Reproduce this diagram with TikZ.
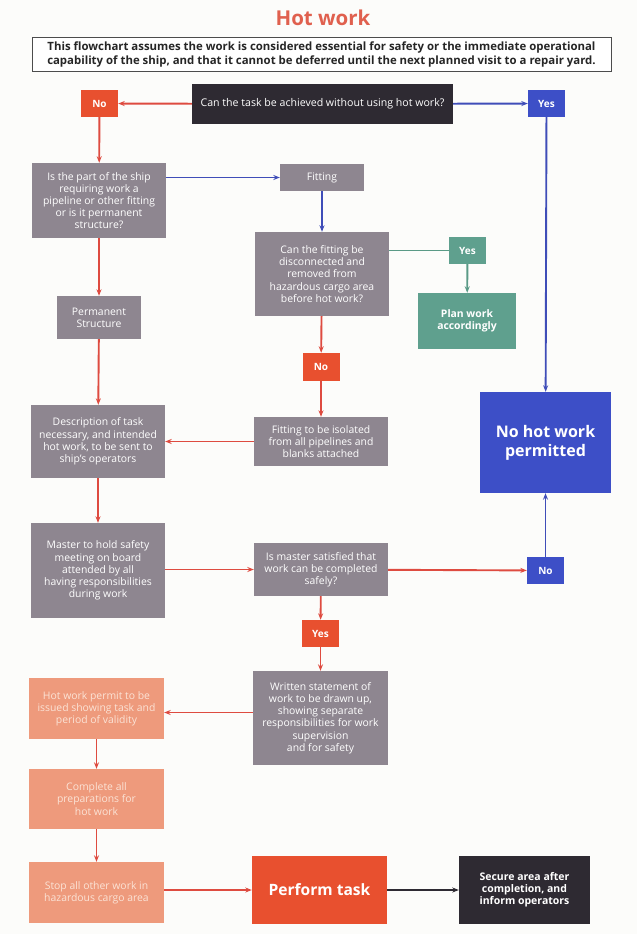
\documentclass[tikz,border=0pt]{standalone}
\usepackage{fontspec}
\setmainfont{Open Sans}
\usetikzlibrary{arrows.meta,calc}
\definecolor{cred}{HTML}{E8502F}
\definecolor{lred}{HTML}{DE4B40}
\definecolor{ctitle}{HTML}{E0604E}
\definecolor{cblue}{HTML}{3D4FC7}
\definecolor{lblue}{HTML}{3F4DB8}
\definecolor{cdark}{HTML}{2E2A32}
\definecolor{cgray}{HTML}{8E8690}
\definecolor{cgreen}{HTML}{5FA08E}
\definecolor{lgreen}{HTML}{5A9A86}
\definecolor{csalmon}{HTML}{EE9A7C}
\definecolor{tsalmon}{HTML}{FBE3D6}
\definecolor{cpaper}{HTML}{FCFCFA}
\tikzset{
  base/.style={rectangle, inner sep=0pt, align=center, text=white,
    font=\fontsize{10.4}{12.2}\selectfont},
  graybox/.style={base, fill=cgray},
  darkbox/.style={base, fill=cdark},
  redbox/.style={base, fill=cred},
  bluebox/.style={base, fill=cblue},
  greenbox/.style={base, fill=cgreen},
  salmonbox/.style={base, fill=csalmon, text=tsalmon},
  tag/.style={base, font=\bfseries\fontsize{10}{12}\selectfont, minimum width=37pt, minimum height=27pt},
  conn/.style={line width=1.9pt, -{Stealth[length=6.5pt,width=5pt]}},
  rarr/.style={conn, draw=lred},
  barr/.style={conn, draw=lblue},
  garr/.style={conn, draw=lgreen},
  karr/.style={conn, draw=cdark},
}
\begin{document}
\begin{tikzpicture}[x=1pt,y=-1pt]
\fill[cpaper] (0,0) rectangle (637,934);
\useasboundingbox (0,0) rectangle (637,934);

\node[text=ctitle, font=\bfseries\fontsize{20.5}{24}\selectfont] (title) at (323,18) {Hot work};
\node[draw=black!70, line width=1pt, fill=white, minimum width=579pt, minimum height=34pt, inner sep=0pt, align=center,
  font=\bfseries\fontsize{11.4}{14}\selectfont, text=black!85] (note) at (321.5,55)
  {This flowchart assumes the work is considered essential for safety or the immediate operational\\
   capability of the ship, and that it cannot be deferred until the next planned visit to a repair yard.};

\node[darkbox, minimum width=261pt, minimum height=40pt, font=\fontsize{10.6}{12}\selectfont] (q1) at (322.5,104) {Can the task be achieved without using hot work?};
\node[tag, fill=cred] (no1) at (99.5,103.5) {No};
\node[tag, fill=cblue] (yes1) at (546.5,103.5) {Yes};

\node[graybox, minimum width=134pt, minimum height=75pt] (ispart) at (99,200.5)
  {Is the part of the ship\\requiring work a\\pipeline or other fitting\\or is it permanent\\structure?};
\node[graybox, minimum width=84pt, minimum height=27pt] (fitting) at (322,177.5) {Fitting};
\node[graybox, minimum width=134pt, minimum height=84pt] (canfit) at (322,274)
  {Can the fitting be\\disconnected and\\removed from\\hazardous cargo area\\before hot work?};
\node[tag, fill=cgreen] (yes2) at (467.5,250.5) {Yes};
\node[greenbox, minimum width=98pt, minimum height=56pt, font=\bfseries\fontsize{10.4}{12.2}\selectfont] (plan) at (467,321) {Plan work\\accordingly};
\node[graybox, minimum width=84pt, minimum height=43pt] (perm) at (99,317.5) {Permanent\\Structure};
\node[tag, fill=cred, minimum height=28pt] (no2) at (321,367) {No};
\node[bluebox, minimum width=131pt, minimum height=101pt, font=\bfseries\fontsize{16}{19}\selectfont] (nohot) at (545.5,442.5) {No hot work\\permitted};

\node[graybox, minimum width=134pt, minimum height=73pt] (desc) at (98,441.5)
  {Description of task\\necessary, and intended\\hot work, to be sent to\\ship's operators};
\node[graybox, minimum width=134pt, minimum height=49pt] (iso) at (321,441.5)
  {Fitting to be isolated\\from all pipelines and\\blanks attached};
\node[graybox, minimum width=134pt, minimum height=95pt] (master) at (98,570.5)
  {Master to hold safety\\meeting on board\\attended by all\\having responsibilities\\during work};
\node[graybox, minimum width=134pt, minimum height=53pt] (sat) at (321,569.5)
  {Is master satisfied that\\work can be completed\\safely?};
\node[tag, fill=cblue] (no3) at (545.5,570.5) {No};
\node[tag, fill=cred] (yes3) at (320.5,633.5) {Yes};
\node[graybox, minimum width=135pt, minimum height=94pt] (written) at (320.5,718)
  {Written statement of\\work to be drawn up,\\showing separate\\responsibilities for work\\supervision\\and for safety};

\node[salmonbox, minimum width=135pt, minimum height=61pt] (permit) at (96.5,708.5)
  {Hot work permit to be\\issued showing task and\\period of validity};
\node[salmonbox, minimum width=135pt, minimum height=60pt] (complete) at (96.5,799)
  {Complete all\\preparations for\\hot work};
\node[salmonbox, minimum width=135pt, minimum height=61pt] (stop) at (96.5,892.5)
  {Stop all other work in\\hazardous cargo area};
\node[redbox, minimum width=135pt, minimum height=68pt, font=\bfseries\fontsize{15.6}{19}\selectfont] (perform) at (319.5,890) {Perform task};
\node[darkbox, minimum width=131pt, minimum height=68pt, font=\bfseries\fontsize{10.5}{12.2}\selectfont] (secure) at (524.5,890)
  {Secure area after\\completion, and\\inform operators};

% connectors
\draw[rarr] (q1) -- (no1);
\draw[barr] (q1) -- (yes1);
\draw[rarr] (no1) -- (ispart);
\draw[barr] (ispart.east |- fitting) -- (fitting);
\draw[barr] (fitting) -- (canfit);
\draw[line width=1.9pt, draw=lgreen] (canfit.east |- yes2) -- (yes2);
\draw[garr] (yes2) -- (plan);
\draw[rarr] (canfit) -- (no2);
\draw[rarr] (no2) -- (iso);
\draw[rarr] (ispart) -- (perm);
\draw[rarr] (perm) -- (desc);
\draw[rarr] (iso) -- (desc);
\draw[rarr] (desc) -- (master);
\draw[rarr] (master.east |- sat) -- (sat);
\draw[rarr] (sat) -- (no3);
\draw[barr] (no3) -- (nohot);
\draw[barr] (yes1) -- (nohot);
\draw[rarr] (sat) -- (yes3);
\draw[rarr] (yes3) -- (written);
\draw[rarr] (written.west |- {$(permit.east)+(0,4)$}) -- ($(permit.east)+(0,4)$);
\draw[rarr] (permit) -- (complete);
\draw[rarr] (complete) -- (stop);
\draw[rarr] (stop.east |- perform) -- (perform);
\draw[karr] (perform) -- (secure);
\end{tikzpicture}
\end{document}
